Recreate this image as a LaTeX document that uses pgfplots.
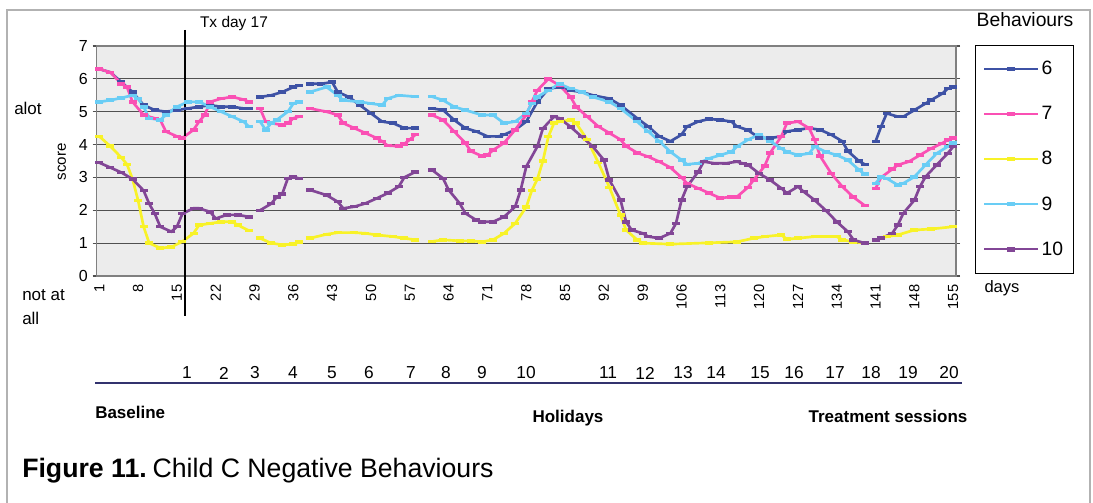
\documentclass[border=0pt]{standalone}
\usepackage{pgfplots}
\pgfplotsset{compat=1.18}
\usepackage{pgfplotstable}
\usepackage{fontspec}
\setmainfont{Liberation Sans}
\definecolor{cSix}{RGB}{62,82,165}
\definecolor{cSeven}{RGB}{250,80,180}
\definecolor{cEight}{RGB}{248,242,40}
\definecolor{cNine}{RGB}{105,205,245}
\definecolor{cTen}{RGB}{130,70,150}
\definecolor{gridc}{RGB}{80,80,80}
\definecolor{bgc}{RGB}{236,236,236}
\definecolor{sessline}{RGB}{50,50,110}

\pgfplotstableread{
x y
1 6.3
3 6.2
5 5.9
7 5.6
9 5.2
11 5.05
13 5.0
15 5.05
17 5.1
19 5.15
21 5.2
23 5.15
25 5.15
27 5.1
28 5.1
29 nan
30 5.45
32 5.5
34 5.6
36 5.75
37 5.8
38 nan
39 5.85
41 5.85
43 5.9
44 5.6
46 5.45
48 5.2
50 4.95
52 4.7
54 4.65
56 4.5
58 4.5
59.5 nan
61 5.1
63 5.05
65 4.75
67 4.5
69 4.4
71 4.25
73 4.25
74 4.3
76 4.45
78 4.7
80 5.3
82 5.7
84 5.75
86 5.65
88 5.6
90 5.5
93 5.4
95 5.2
98 4.8
100 4.55
102 4.25
104 4.1
106 4.3
107 4.55
109 4.7
111 4.78
113 4.75
115 4.7
116 4.55
118 4.44
120 4.2
122 4.2
124 4.25
125 4.4
127 4.45
129 4.5
131 4.45
133 4.3
135 4.1
136 3.8
138 3.5
139 3.4
140 nan
141 4.1
142 4.55
143 4.95
145 4.85
146 4.85
148 5.05
150 5.25
151 5.35
153 5.55
154 5.7
155 5.75
}\tSix

\pgfplotstableread{
x y
1 6.3
3 6.2
5 5.85
6 5.75
7 5.3
9 4.9
11 4.8
12 4.75
13 4.4
15 4.25
16 4.2
18 4.45
19 4.7
20 4.9
21 5.3
23 5.4
25 5.45
27 5.37
28 5.3
29 nan
30 5.1
31 4.7
32 4.65
34 4.6
35 4.65
36 4.8
37 4.85
38 nan
39 5.1
42 5.0
44 4.9
45 4.65
47 4.5
49 4.35
51 4.2
52 4.1
53 3.97
55 3.95
56 4.02
57 4.15
58 4.3
59.5 nan
61 4.9
63 4.75
65 4.4
67 4.05
68 3.8
70 3.65
71 3.68
72 3.83
74 4.05
76 4.45
78 4.9
79 5.3
80 5.65
82 6.0
84 5.8
86 5.45
87 5.15
89 4.85
91 4.55
93 4.35
95 4.15
96 3.95
98 3.75
100 3.63
102 3.48
104 3.3
106 3.0
107 2.82
109 2.67
111 2.52
113 2.37
115 2.41
116 2.41
118 2.7
119 2.92
121 3.35
122 3.75
124 4.25
125 4.65
127 4.7
129 4.5
130 4.15
131 3.65
133 3.12
135 2.72
137 2.4
139 2.15
140 nan
141 2.67
142 3.0
144 3.25
145 3.38
147 3.48
149 3.68
151 3.88
153 4.04
154 4.14
155 4.2
}\tSeven

\pgfplotstableread{
x y
1 4.25
3 3.95
5 3.6
6 3.4
7 2.95
8 2.3
9 1.5
10 1.0
12 0.85
14 0.88
16 1.05
18 1.3
19 1.55
21 1.6
23 1.65
25 1.65
26 1.55
28 1.38
29 nan
30 1.15
32 1.0
34 0.95
36 0.97
37 1.03
38 nan
39 1.15
42 1.27
44 1.32
47 1.32
49 1.3
51 1.25
54 1.2
56 1.15
58 1.1
59.5 nan
61 1.05
63 1.1
66 1.07
68 1.07
70 1.04
72 1.1
74 1.3
76 1.6
78 2.1
79 2.6
80 2.95
81 3.5
82 4.25
83 4.65
84 4.7
86 4.75
87 4.65
89 4.15
91 3.45
93 2.7
95 1.85
96 1.4
98 1.1
99 1.0
104 0.97
111 1.01
116 1.04
119 1.15
121 1.2
124 1.25
125 1.12
127 1.15
130 1.2
134 1.2
135 1.1
137 1.04
139 1.0
140 nan
141 1.1
143 1.2
145 1.25
148 1.4
151 1.43
155 1.5
}\tEight

\pgfplotstableread{
x y
1 5.3
3 5.35
5 5.42
7 5.5
8 5.4
9 5.15
10 4.8
12 4.75
13 4.9
15 5.15
17 5.3
19 5.3
21 5.15
23 5.0
25 4.85
27 4.7
28 4.55
29 nan
30 4.7
31 4.45
32 4.65
33 4.75
35 5.0
36 5.25
37 5.3
38 nan
39 5.6
42 5.75
44 5.5
45 5.35
48 5.3
50 5.25
52 5.2
53 5.4
55 5.5
58 5.46
59.5 nan
61 5.46
63 5.35
65 5.15
67 5.05
70 4.9
72 4.9
74 4.65
76 4.7
78 4.95
79 5.25
80 5.45
82 5.65
84 5.85
86 5.7
88 5.6
90 5.45
93 5.3
95 5.1
98 4.7
100 4.4
102 4.1
104 3.78
106 3.53
107 3.4
109 3.43
111 3.58
113 3.68
115 3.78
116 3.94
118 4.15
120 4.3
122 4.1
124 3.88
125 3.78
127 3.68
129 3.73
130 3.94
132 3.78
134 3.68
136 3.53
138 3.23
139 3.1
140 nan
141 2.82
142 3.02
143 2.97
145 2.77
146 2.82
148 3.02
150 3.38
152 3.73
154 3.94
155 4.05
}\tNine

\pgfplotstableread{
x y
1 3.45
3 3.3
5 3.15
7 2.95
9 2.6
10 2.2
11 1.9
12 1.5
14 1.35
15 1.5
16 1.9
18 2.06
19 2.06
21 1.95
22 1.75
24 1.86
26 1.86
28 1.8
29 nan
30 2.0
32 2.2
33 2.4
34 2.5
35 2.97
36 3.02
37 2.97
38 nan
39 2.62
42 2.46
44 2.26
45 2.06
47 2.11
49 2.21
51 2.36
53 2.52
55 2.72
56 3.0
58 3.17
59.5 nan
61 3.23
63 2.97
64 2.62
66 2.21
67 1.91
69 1.7
70 1.65
72 1.65
74 1.8
76 2.11
77 2.62
78 3.33
80 3.94
81 4.49
83 4.85
84 4.8
86 4.54
88 4.24
90 3.94
92 3.53
93 2.92
95 2.31
96 1.65
97 1.4
99 1.3
100 1.2
102 1.15
104 1.3
105 1.6
106 2.31
107 2.72
109 3.17
110 3.48
112 3.43
114 3.43
116 3.48
117 3.43
118 3.38
120 3.12
122 2.92
124 2.67
125 2.52
127 2.72
128 2.57
130 2.31
132 2.0
134 1.65
136 1.35
137 1.1
139 1.0
140 nan
141 1.1
142 1.15
144 1.3
145 1.55
146 1.91
148 2.31
149 2.72
150 3.02
152 3.38
154 3.73
155 3.94
}\tTen

\begin{document}
\begin{tikzpicture}
\useasboundingbox (0,0) rectangle (819.75pt,-377.25pt);
\begin{axis}[
  at={(72.375pt,-207pt)}, anchor=south west,
  scale only axis, width=644.625pt, height=172.5pt,
  xmin=0.5, xmax=155.5, ymin=0, ymax=7,
  ytick={0,1,...,7},
  xtick={1,8,...,155},
  clip=false,
  unbounded coords=jump,
  axis background/.style={fill=bgc},
  axis line style={gray, line width=0.8pt},
  ymajorgrids, major grid style={gridc, line width=0.8pt},
  tick align=outside, major tick length=3pt,
  xtick style={draw=none},
  ytick style={gridc, line width=0.8pt},
  xticklabel style={font=\fontsize{11}{12}\selectfont, rotate=90, anchor=east},
  yticklabel style={font=\fontsize{12}{13}\selectfont},
  /pgf/number format/assume math mode=true,
  every axis plot/.append style={line width=2pt, mark=-, mark size=3pt, mark options={solid, line width=2.6pt}},
  legend style={at={(1.0221,1.0043)}, anchor=north west, draw=black, line width=0.6pt, fill=white,
    font=\fontsize{14.5}{16}\selectfont, inner xsep=6pt, inner ysep=10pt, row sep=18.2pt},
  legend cell align=left,
  legend image code/.code={\draw[#1, line width=1.6pt, mark repeat=2, mark phase=2, mark options={solid, line width=3.2pt}] plot coordinates {(0pt,0pt) (20pt,0pt) (40pt,0pt)};},
]
\addplot[cSix] table[x=x,y=y] {\tSix};
\addplot[cSeven] table[x=x,y=y] {\tSeven};
\addplot[cEight] table[x=x,y=y] {\tEight};
\addplot[cNine] table[x=x,y=y] {\tNine};
\addplot[cTen] table[x=x,y=y] {\tTen};
\legend{6,7,8,9,10}
\draw[black, line width=1.5pt] (axis cs:16.5,7.49) -- (axis cs:16.5,-1.22);
\end{axis}
\begin{scope}[x=0.75pt, y=-0.75pt]
\draw[gray!60, line width=0.8pt] (7,503) -- (7,10) -- (1090,10) -- (1090,503);
\node[font=\fontsize{11.6}{13}\selectfont] at (234,24) {Tx day 17};
\node[anchor=west, inner sep=0pt, font=\fontsize{12.75}{14}\selectfont] at (14,108) {alot};
\node[anchor=north west, inner sep=0pt, align=left, font=\fontsize{12.75}{18}\selectfont] at (22,289) {not at\\all};
\node[rotate=90, font=\fontsize{11.3}{13}\selectfont] at (62,162) {score};
\node[font=\fontsize{12.4}{14}\selectfont] at (1002,288) {days};
\node[font=\fontsize{14.5}{16}\selectfont] at (1025,20) {Behaviours};
\foreach \xx/\lab in {187/1,224/2,255/3,293/4,332/5,369/6,411/7,446/8,482/9,526/10,608/11,645/12,683/13,716/14,760/15,794/16,835/17,871/18,908/19,949/20}
  \node[font=\fontsize{13}{15}\selectfont] at (\xx,373) {\lab};
\draw[sessline, line width=1pt] (95,383) -- (962,383);
\node[anchor=west, inner sep=0pt, font=\bfseries\fontsize{12.75}{14}\selectfont] at (95,412) {Baseline};
\node[font=\bfseries\fontsize{12.75}{14}\selectfont] at (568,418) {Holidays};
\node[font=\bfseries\fontsize{12.75}{14}\selectfont] at (888,416) {Treatment sessions};
\node[anchor=west, inner sep=0pt, font=\fontsize{20}{22}\selectfont] at (22,471) {\textbf{Figure 11.}\hspace{-0.15em} Child C Negative Behaviours};
\end{scope}
\end{tikzpicture}
\end{document}
